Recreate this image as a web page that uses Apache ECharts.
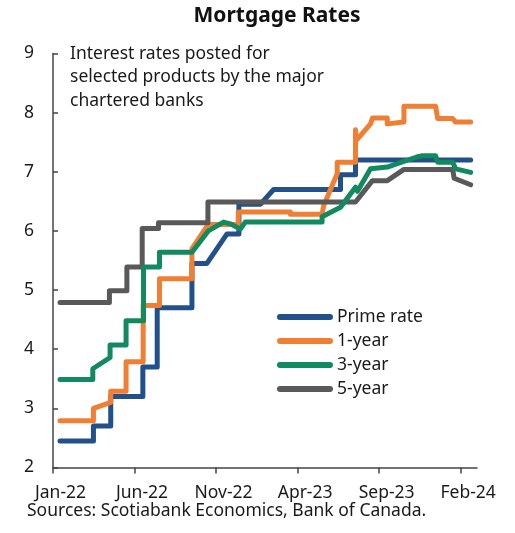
<!DOCTYPE html>
<html>
<head>
<meta charset="utf-8">
<script src="https://cdn.jsdelivr.net/npm/echarts@6/dist/echarts.min.js"></script>
<style>
html,body{margin:0;padding:0;background:#fff;}
#chart{width:515px;height:533px;}
</style>
</head>
<body>
<div id="chart"></div>
<script>
// x values are months since Jan-22
var tickMonths = [0, 5, 10, 15, 20, 25];
var tickLabels = ['Jan-22', 'Jun-22', 'Nov-22', 'Apr-23', 'Sep-23', 'Feb-24'];
var seriesNames = ['Prime rate', '1-year', '3-year', '5-year'];

var primeRate = [[0.43,2.45],[2.48,2.45],[2.48,2.70],[3.54,2.70],[3.54,3.20],[5.51,3.20],[5.51,3.70],[6.39,3.70],[6.39,4.70],[8.52,4.70],[8.52,5.45],[9.44,5.45],[10.67,5.95],[11.4,5.95],[11.4,6.45],[12.71,6.45],[13.53,6.70],[17.63,6.70],[17.63,6.95],[18.55,6.95],[18.55,7.20],[25.61,7.20]];

var oneYear = [[0.43,2.79],[2.48,2.79],[2.48,3.00],[3.54,3.10],[3.54,3.29],[4.48,3.29],[4.48,3.79],[5.53,3.79],[5.53,4.74],[6.53,4.74],[6.53,5.19],[8.52,5.19],[8.52,5.70],[9.52,6.11],[11.36,6.11],[11.36,6.32],[14.56,6.32],[14.56,6.28],[16.5,6.28],[16.6,6.43],[17.43,6.97],[17.43,7.16],[18.55,7.16],[18.55,7.71],[18.6,7.53],[19.47,7.81],[19.59,7.91],[20.5,7.91],[20.5,7.81],[21.52,7.84],[21.52,8.11],[23.46,8.11],[23.59,7.90],[24.51,7.90],[24.69,7.84],[25.61,7.84]];

var threeYear = [[0.43,3.49],[2.44,3.49],[2.44,3.67],[3.50,3.86],[3.50,4.07],[4.48,4.07],[4.48,4.48],[5.55,4.48],[5.55,5.39],[6.53,5.39],[6.53,5.64],[8.52,5.64],[9.52,6.00],[10.46,6.15],[10.87,6.12],[11.49,6.03],[11.79,6.15],[16.5,6.15],[16.5,6.24],[17.63,6.40],[18.55,6.74],[18.67,6.67],[19.47,7.05],[20.5,7.08],[22.3,7.25],[22.6,7.27],[23.46,7.27],[23.59,7.16],[24.51,7.16],[24.69,7.05],[25.61,6.99]];

var fiveYear = [[0.43,4.79],[3.46,4.79],[3.46,4.99],[4.53,4.99],[4.53,5.39],[5.47,5.39],[5.47,6.04],[6.47,6.04],[6.47,6.14],[9.50,6.14],[9.50,6.49],[18.55,6.49],[19.59,6.85],[20.5,6.85],[21.52,7.04],[24.51,7.04],[24.6,6.89],[25.61,6.78]];

var colors = ['#22508A', '#F07F34', '#128A5F', '#595959'];
var FONT = 'Noto Sans';
var FS = 17.5;
var chart = echarts.init(document.getElementById('chart'), null, {renderer: 'canvas'});

function lineSeries(name, data, color, z) {
  return {
    name: name, type: 'line', data: data, symbol: 'none', smooth: false, z: z,
    lineStyle: {color: color, width: 5, cap: 'round', join: 'round'},
    itemStyle: {color: color}
  };
}

var option = {
  backgroundColor: '#fff',
  animation: false,
  legend: {
    orient: 'vertical', left: 277, top: 307, padding: 0, itemGap: 4,
    itemWidth: 56, itemHeight: 6,
    icon: 'path://M3,0 H53 A3,3 0 0 1 53,6 H3 A3,3 0 0 1 3,0 Z',
    data: seriesNames,
    textStyle: {fontFamily: FONT, fontSize: FS, color: '#1a1a1a', lineHeight: 20, padding: [0,0,0,-1]}
  },
  grid: {left: 53, right: 38, top: 53.5, bottom: 65.5, containLabel: false},
  xAxis: {
    type: 'value', min: 0, max: 26, interval: 5,
    splitLine: {show: false},
    axisLine: {show: true, lineStyle: {color: '#444', width: 1.5}},
    axisTick: {show: true, length: 6, lineStyle: {color: '#444', width: 1.5}, customValues: tickMonths},
    axisLabel: {
      fontFamily: FONT, fontSize: FS, color: '#1a1a1a', margin: 16, lineHeight: 19,
      padding: [0, 0, 0, 15],
      customValues: tickMonths,
      formatter: function (v) { var i = tickMonths.indexOf(Math.round(v)); return i >= 0 ? tickLabels[i] : ''; }
    }
  },
  yAxis: {
    type: 'value', min: 2, max: 9, interval: 1,
    splitLine: {show: false},
    axisLine: {show: true, onZero: false, lineStyle: {color: '#444', width: 1.5}},
    axisTick: {show: true, inside: true, length: 5, lineStyle: {color: '#444', width: 1.5}},
    axisLabel: {fontFamily: FONT, fontSize: FS, color: '#1a1a1a', margin: 19}
  },
  graphic: [
    {type: 'text', x: 277, y: 16, style: {text: 'Mortgage Rates', font: 'bold 21px "Noto Sans"', fill: '#111', textAlign: 'center', textVerticalAlign: 'middle'}},
    {type: 'text', left: 70, top: 42, style: {text: 'Interest rates posted for\nselected products by the major\nchartered banks', font: FS + 'px "Noto Sans"', fill: '#1a1a1a', lineHeight: 23.5}},
    {type: 'text', left: 27, top: 501, style: {text: 'Sources: Scotiabank Economics, Bank of Canada.', font: FS + 'px "Noto Sans"', fill: '#1a1a1a', lineHeight: 20}}
  ],
  series: [
    lineSeries(seriesNames[0], primeRate, colors[0], 2),
    lineSeries(seriesNames[1], oneYear, colors[1], 3),
    lineSeries(seriesNames[3], fiveYear, colors[3], 4),
    lineSeries(seriesNames[2], threeYear, colors[2], 5)
  ]
};
chart.setOption(option);
</script>
</body>
</html>
